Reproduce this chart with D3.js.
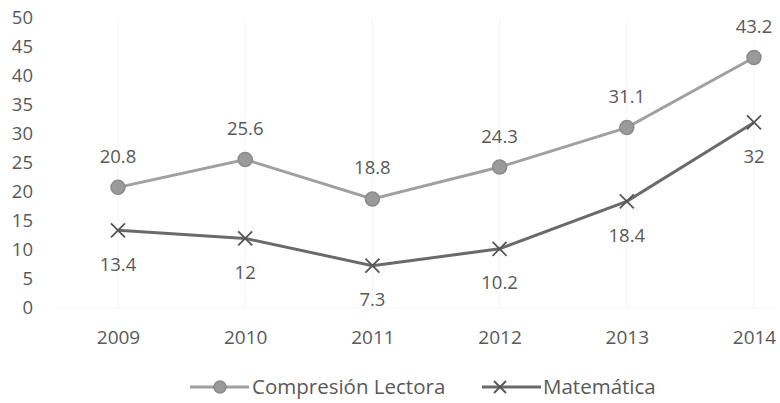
<html>
<head>
<script src="https://d3js.org/d3.v7.min.js"></script>
<style>
  body { margin: 0; background: #fff; }
  text { font-family: "Open Sans", sans-serif; fill: #595959; }
</style>
</head>
<body>
<div id="chart"></div>
<script>
const years = ["2009", "2010", "2011", "2012", "2013", "2014"];
const lectora = [20.8, 25.6, 18.8, 24.3, 31.1, 43.2];
const matematica = [13.4, 12, 7.3, 10.2, 18.4, 32];
const yTicks = [0, 5, 10, 15, 20, 25, 30, 35, 40, 45, 50];
const seriesNames = ["Compresión Lectora", "Matemática"];

const width = 780, height = 403;
const svg = d3.select("#chart").append("svg")
  .attr("width", width).attr("height", height);

const x = d3.scalePoint().domain(years).range([118, 754]);
const y = d3.scaleLinear().domain([0, 50]).range([308, 18]);

// faint vertical gridlines
svg.append("g").selectAll("line").data(years).enter().append("line")
  .attr("x1", d => x(d)).attr("x2", d => x(d))
  .attr("y1", y(50)).attr("y2", y(0))
  .attr("stroke", "#f3f3f3").attr("stroke-width", 1);

svg.append("line")
  .attr("x1", 55).attr("x2", 775)
  .attr("y1", y(0)).attr("y2", y(0))
  .attr("stroke", "#f3f3f3");

// y axis
const yAxis = svg.append("g")
  .attr("transform", "translate(33,0)")
  .call(d3.axisLeft(y).tickValues(yTicks).tickSize(0).tickPadding(0));
yAxis.select(".domain").remove();
yAxis.selectAll("text").style("font-size", "18.5px").attr("fill", "#595959")
  .style("font-family", "Open Sans");

// x axis
const xAxis = svg.append("g")
  .attr("transform", "translate(0,337)")
  .call(d3.axisBottom(x).tickSize(0).tickPadding(0));
xAxis.select(".domain").remove();
xAxis.selectAll("text").attr("y", 0).attr("dy", "0.35em")
  .style("font-size", "19px").attr("fill", "#595959")
  .style("font-family", "Open Sans");

const line = d3.line().x((d, i) => x(years[i])).y(d => y(d));

// Compresión Lectora
svg.append("path").datum(lectora)
  .attr("d", line).attr("fill", "none")
  .attr("stroke", "#a0a0a0").attr("stroke-width", 3);
svg.append("g").selectAll("circle").data(lectora).enter().append("circle")
  .attr("cx", (d, i) => x(years[i])).attr("cy", d => y(d))
  .attr("r", 7).attr("fill", "#9a9a9a").attr("stroke", "#8a8a8a").attr("stroke-width", 1.5);
svg.append("g").selectAll("text").data(lectora).enter().append("text")
  .attr("x", (d, i) => x(years[i])).attr("y", d => y(d) - 31)
  .attr("text-anchor", "middle").attr("dy", "0.35em")
  .style("font-size", "18.5px").text(d => d);

// Matemática
svg.append("path").datum(matematica)
  .attr("d", line).attr("fill", "none")
  .attr("stroke", "#6a6a6a").attr("stroke-width", 3);
const xs = 7;
svg.append("g").selectAll("path").data(matematica).enter().append("path")
  .attr("d", (d, i) => {
    const cx = x(years[i]), cy = y(d);
    return `M${cx - xs},${cy - xs}L${cx + xs},${cy + xs}M${cx - xs},${cy + xs}L${cx + xs},${cy - xs}`;
  })
  .attr("stroke", "#555").attr("stroke-width", 1.8).attr("fill", "none");
svg.append("g").selectAll("text").data(matematica).enter().append("text")
  .attr("x", (d, i) => x(years[i])).attr("y", d => y(d) + 34)
  .attr("text-anchor", "middle").attr("dy", "0.35em")
  .style("font-size", "18.5px").text(d => d);

// legend
const ly = 387;
const leg = svg.append("g");
leg.append("line").attr("x1", 190).attr("x2", 249).attr("y1", ly).attr("y2", ly)
  .attr("stroke", "#a0a0a0").attr("stroke-width", 3);
leg.append("circle").attr("cx", 220).attr("cy", ly).attr("r", 6)
  .attr("fill", "#9a9a9a").attr("stroke", "#8a8a8a").attr("stroke-width", 1.5);
leg.append("text").attr("x", 252).attr("y", ly).attr("dy", "0.35em")
  .style("font-size", "20.5px").text(seriesNames[0]);

leg.append("line").attr("x1", 482).attr("x2", 541).attr("y1", ly).attr("y2", ly)
  .attr("stroke", "#6a6a6a").attr("stroke-width", 3);
leg.append("path")
  .attr("d", `M${500 - 6},${ly - 6}L${500 + 6},${ly + 6}M${500 - 6},${ly + 6}L${500 + 6},${ly - 6}`)
  .attr("stroke", "#555").attr("stroke-width", 1.8);
leg.append("text").attr("x", 543).attr("y", ly).attr("dy", "0.35em")
  .style("font-size", "20.5px").text(seriesNames[1]);
</script>
</body>
</html>
